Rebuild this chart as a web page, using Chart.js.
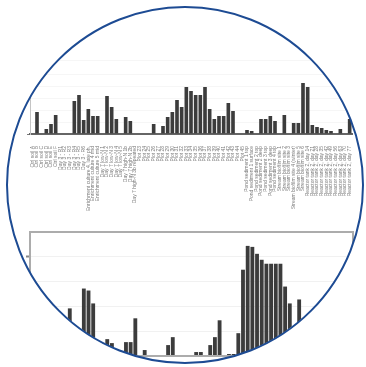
<!DOCTYPE html>
<html>
<head>
<title>Relative abundance by sample</title>
<style>
  body { margin: 0; background: #fff; }
  .lens { position: relative; width: 366px; height: 367px; overflow: hidden; background: #fff; }
  .charts {
    position: absolute; left: 0; top: 0; width: 366px; height: 367px;
    clip-path: circle(178px at 185px 184.5px);
    filter: blur(0.6px);
  }
  #topChart { position: absolute; left: 0; top: 0; }
  #bottomChart { position: absolute; left: 0; top: 220px; }
  .ring {
    position: absolute; left: 6px; top: 5.5px; width: 358px; height: 358px;
    box-sizing: border-box; border: 2px solid #1d4b93; border-radius: 50%;
  }
</style>
</head>
<body>
<div class="lens">
  <div class="charts">
    <canvas id="topChart" width="366" height="230"></canvas>
    <canvas id="bottomChart" width="366" height="147"></canvas>
  </div>
  <div class="ring"></div>
</div>

<script src="https://cdn.jsdelivr.net/npm/chart.js"></script>
<script>
var samples = [
  "Ctrl soil A", "Ctrl soil B", "Ctrl soil C", "Ctrl soil D", "Ctrl soil E", "Ctrl soil F",
  "Day 3 - R1", "Day 3 - R2", "Day 3 - R3", "Day 3 - R4", "Day 3 - R5", "Day 3 - R6",
  "Enrichment culture 4, late ph.", "Enrichment culture 4 mid", "Enrichment culture 5 mid",
  "Day 7 low-N 1", "Day 7 low-N 2", "Day 7 low-N 3", "Day 7 low-N 4", "Day 7 low-N 5",
  "Day 7 high-N 1b", "Day 7 high-N 2b", "Day 7 high-N 3b repeated",
  "Plot 23", "Plot 24", "Plot 25", "Plot 26", "Plot 27", "Plot 28", "Plot 29", "Plot 30",
  "Plot 31", "Plot 32", "Plot 33", "Plot 34", "Plot 35", "Plot 36", "Plot 37", "Plot 38",
  "Plot 39", "Plot 40", "Plot 41", "Plot 42", "Plot 43", "Plot 44", "Plot 45",
  "Pond sediment 1 top", "Pond sediment 1 surface", "Pond sediment 2 top", "Pond sediment 2 deep",
  "Pond sediment 3 top", "Pond sediment 3 deep", "Pond sediment 4 top",
  "Stream biofilm site 1", "Stream biofilm site 2", "Stream biofilm site 3",
  "Stream biofilm site 4 (winter)", "Stream biofilm site 5", "Stream biofilm site 6",
  "Reactor tank 2, day 14", "Reactor tank 2, day 21", "Reactor tank 2, day 28",
  "Reactor tank 2, day 35", "Reactor tank 2, day 42", "Reactor tank 2, day 49",
  "Reactor tank 2, day 56", "Reactor tank 2, day 63", "Reactor tank 2, day 70",
  "Reactor tank 2, day 77"
];

// upper panel, one value per sample
var groupA = [
  0, 22, 0, 5, 10, 19, 0, 0, 0, 33, 39, 14, 25, 18, 18, 0, 38, 27, 15, 0,
  17, 13, 0, 0, 0, 0, 10, 0, 8, 17, 22, 34, 27, 47, 43, 39, 39, 47, 25, 15,
  18, 18, 31, 23, 0, 0, 4, 3, 0, 15, 15, 18, 13, 0, 19, 0, 11, 11, 51, 47,
  9, 7, 6, 4, 3, 0, 5, 0, 15
];

// lower panel
var groupB = [
  30, 45, 20, 38, 15, 28, 22, 12, 48, 20, 10, 68, 66, 53, 8, 5, 17, 13, 3, 4,
  14, 14, 38, 0, 6, 0, 0, 0, 0, 11, 19, 0, 0, 0, 0, 4, 4, 0, 11, 19,
  36, 0, 2, 2, 23, 87, 111, 110, 103, 97, 93, 93, 93, 93, 70, 53, 25, 57, 30, 22,
  35, 18, 40, 12, 28, 15, 9, 30, 20
];

Chart.defaults.font.family = "'Liberation Sans', Arial, sans-serif";
Chart.defaults.animation = false;
Chart.defaults.plugins.legend.display = false;
Chart.defaults.plugins.tooltip.enabled = false;

var barColor = '#3c3c3c';

// grey box round the plot area of the lower panel
var frame = {
  id: 'frame',
  afterDatasetsDraw: function(chart) {
    var a = chart.chartArea, ctx = chart.ctx;
    ctx.save();
    ctx.strokeStyle = '#acacac';
    ctx.lineWidth = 2;
    ctx.strokeRect(a.left, a.top, a.right - a.left, a.bottom - a.top);
    ctx.restore();
  }
};

new Chart(document.getElementById('topChart'), {
  type: 'bar',
  data: {
    labels: samples,
    datasets: [{
      data: groupA,
      backgroundColor: barColor,
      barPercentage: 0.78,
      categoryPercentage: 1
    }]
  },
  options: {
    responsive: false,
    devicePixelRatio: 1,
    layout: { padding: { top: 60, right: 14, left: 0, bottom: 0 } },
    scales: {
      x: {
        grid: { display: false },
        border: { color: '#666', width: 2 },
        ticks: {
          autoSkip: false, minRotation: 90, maxRotation: 90,
          padding: 4, color: '#7c7c7c', font: { size: 5 }
        },
        afterFit: function(s) { s.height = 96; }
      },
      y: {
        min: 0, max: 74,
        ticks: { display: false, stepSize: 12 },
        grid: {
          color: '#f6f6f6', tickLength: 3,
          tickColor: function(c) { return c.tick && c.tick.value === 0 ? '#777' : 'transparent'; }
        },
        border: { color: '#c4c4c4', width: 1 },
        afterFit: function(s) { s.width = 30; }
      }
    }
  }
});

new Chart(document.getElementById('bottomChart'), {
  type: 'bar',
  data: {
    labels: samples,
    datasets: [{
      data: groupB,
      backgroundColor: barColor,
      barPercentage: 0.82,
      categoryPercentage: 1
    }]
  },
  options: {
    responsive: false,
    devicePixelRatio: 1,
    layout: { padding: { top: 12, right: 13, left: 0, bottom: 0 } },
    scales: {
      x: {
        grid: { display: false },
        border: { display: false },
        ticks: { display: false },
        afterFit: function(s) { s.height = 11; }
      },
      y: {
        min: 0, max: 125,
        ticks: { display: false, stepSize: 25 },
        grid: {
          color: '#f1f1f1', tickLength: 4, tickWidth: 2,
          tickColor: function(c) { return c.tick && c.tick.value === 100 ? '#888' : 'transparent'; }
        },
        border: { display: false },
        afterFit: function(s) { s.width = 30; }
      }
    }
  },
  plugins: [frame]
});
</script>
</body>
</html>
